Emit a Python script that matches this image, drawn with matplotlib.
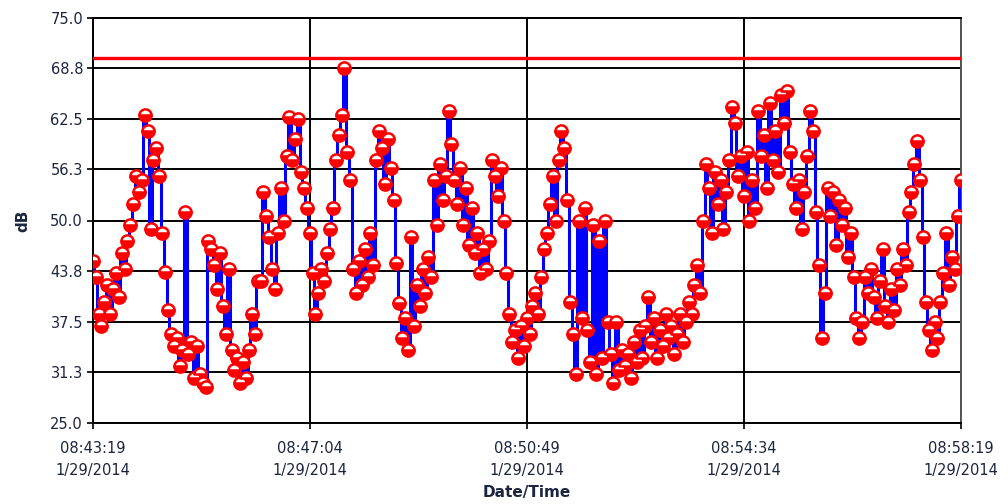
import matplotlib
matplotlib.use("Agg")
import matplotlib.pyplot as plt
import numpy as np
from datetime import datetime, timedelta

# ---- data -------------------------------------------------------------
start_time = "2014-01-29 08:43:19"
sample_seconds = 3
db_values = [
    45.0, 43.0, 38.5, 37.0, 40.0, 42.0, 38.5, 41.5, 43.5, 40.5,
    46.0, 44.0, 47.5, 49.5, 52.0, 55.5, 53.5, 55.0, 63.0, 61.0,
    49.0, 57.5, 59.0, 55.5, 48.5, 43.7, 39.0, 36.0, 34.5, 35.5,
    32.0, 34.0, 51.0, 33.5, 35.0, 30.5, 34.5, 31.0, 30.0, 29.5,
    47.5, 46.5, 44.5, 41.5, 46.0, 39.5, 36.0, 44.0, 34.0, 31.5,
    33.0, 30.0, 32.5, 30.5, 34.0, 38.5, 36.0, 42.5, 42.5, 53.5,
    50.5, 48.0, 44.0, 41.5, 48.5, 54.0, 50.0, 58.0, 62.8, 57.5,
    60.0, 62.5, 56.0, 54.0, 51.5, 48.5, 43.5, 38.5, 41.0, 44.0,
    42.5, 46.0, 49.0, 51.5, 57.5, 60.5, 63.0, 68.8, 58.5, 55.0,
    44.0, 41.0, 45.0, 42.0, 46.5, 43.0, 48.5, 44.5, 57.5, 61.0,
    59.0, 54.5, 60.0, 56.5, 52.5, 44.7, 39.8, 35.5, 38.0, 34.0,
    48.0, 37.0, 42.0, 39.5, 44.0, 41.0, 45.5, 43.0, 55.0, 49.5,
    57.0, 52.5, 55.5, 63.5, 59.5, 55.0, 52.0, 56.5, 49.5, 54.0,
    47.0, 51.5, 46.0, 48.5, 43.5, 46.5, 44.0, 47.5, 57.5, 55.5,
    53.0, 56.5, 50.0, 43.5, 38.5, 35.0, 36.5, 33.0, 37.0, 34.5,
    38.0, 36.0, 39.5, 41.0, 38.5, 43.0, 46.5, 48.5, 52.0, 55.5,
    50.0, 57.5, 61.0, 59.0, 52.5, 40.0, 36.0, 31.0, 50.0, 38.0,
    51.5, 36.5, 32.5, 49.5, 31.0, 47.5, 33.0, 50.0, 37.5, 33.5,
    30.0, 37.5, 31.5, 34.0, 32.0, 33.5, 30.5, 35.0, 32.5, 36.5,
    33.0, 37.0, 40.5, 35.0, 38.0, 33.0, 36.5, 34.5, 38.5, 35.5,
    37.0, 33.5, 36.0, 38.5, 35.0, 37.5, 40.0, 38.5, 42.0, 44.5,
    41.0, 50.0, 57.0, 54.0, 48.5, 56.0, 52.0, 55.0, 49.0, 53.5,
    57.5, 64.0, 62.0, 55.5, 58.0, 53.0, 58.5, 50.0, 55.0, 51.5,
    63.5, 58.0, 60.5, 54.0, 64.5, 57.5, 61.0, 56.0, 65.5, 62.0,
    66.0, 58.5, 54.5, 51.5, 55.0, 49.0, 53.5, 58.0, 63.5, 61.0,
    51.0, 44.5, 35.5, 41.0, 54.0, 50.5, 53.5, 47.0, 52.5, 49.5,
    51.5, 45.5, 48.5, 43.0, 38.0, 35.5, 37.5, 43.0, 41.0, 44.0,
    40.5, 38.0, 42.5, 46.5, 39.5, 37.5, 41.5, 39.0, 44.0, 42.0,
    46.5, 44.5, 51.0, 53.5, 57.0, 59.8, 55.0, 48.0, 40.0, 36.5,
    34.0, 37.5, 35.5, 40.0, 43.5, 48.5, 42.0, 45.5, 44.0, 50.5,
    55.0,
]
limit_db = 70.1
y_ticks = [25.0, 31.3, 37.5, 43.8, 50.0, 56.3, 62.5, 68.8, 75.0]
x_tick_seconds = [0, 225, 450, 675, 900]

# ---- build times --------------------------------------------------------
t0 = datetime.strptime(start_time, "%Y-%m-%d %H:%M:%S")
times = [t0 + timedelta(seconds=sample_seconds * i) for i in range(len(db_values))]
x_ticks = [t0 + timedelta(seconds=s) for s in x_tick_seconds]

# ---- figure -------------------------------------------------------------
fig = plt.figure(figsize=(10.08, 5.04), dpi=100)
ax = fig.add_axes([0.092, 0.1607, 0.861, 0.8036])

text_color = "#1c2540"

ax.plot(times, db_values, color="#0000ff", lw=2.2, drawstyle="steps-mid", zorder=3)
ax.plot(times, db_values, linestyle="none", marker="o", markersize=8.8,
        markerfacecolor="red", markerfacecoloralt="white", fillstyle="bottom",
        markeredgecolor="red", markeredgewidth=1.8, zorder=4)
ax.axhline(limit_db, color="red", lw=2.4, zorder=5)

ax.set_ylim(25, 75)
ax.set_xlim(x_ticks[0], x_ticks[-1])
ax.set_yticks(y_ticks)
ax.set_yticklabels([f"{v:.1f}" for v in y_ticks])
ax.set_xticks(x_ticks)
ax.set_xticklabels([f"{d:%H:%M:%S}\n{d.month}/{d.day}/{d.year}" for d in x_ticks],
                   linespacing=1.55)

ax.grid(True, color="black", lw=1.4, zorder=1)
ax.set_axisbelow(True)
for side in ["left", "bottom", "top"]:
    ax.spines[side].set_color("black")
    ax.spines[side].set_linewidth(1.4)
ax.spines["right"].set_color("#555555")
ax.spines["right"].set_linewidth(1.4)

ax.tick_params(axis="both", direction="out", length=4, width=1.2,
               colors="black", labelcolor=text_color, labelsize=10.5)
ax.tick_params(axis="x", pad=9)
ax.tick_params(axis="y", pad=3)

ax.set_ylabel("dB", fontsize=11, fontweight="bold", color=text_color, labelpad=14)
ax.set_xlabel("Date/Time", fontsize=11, fontweight="bold", color=text_color, labelpad=5)

fig.savefig("out.png", dpi=100)
